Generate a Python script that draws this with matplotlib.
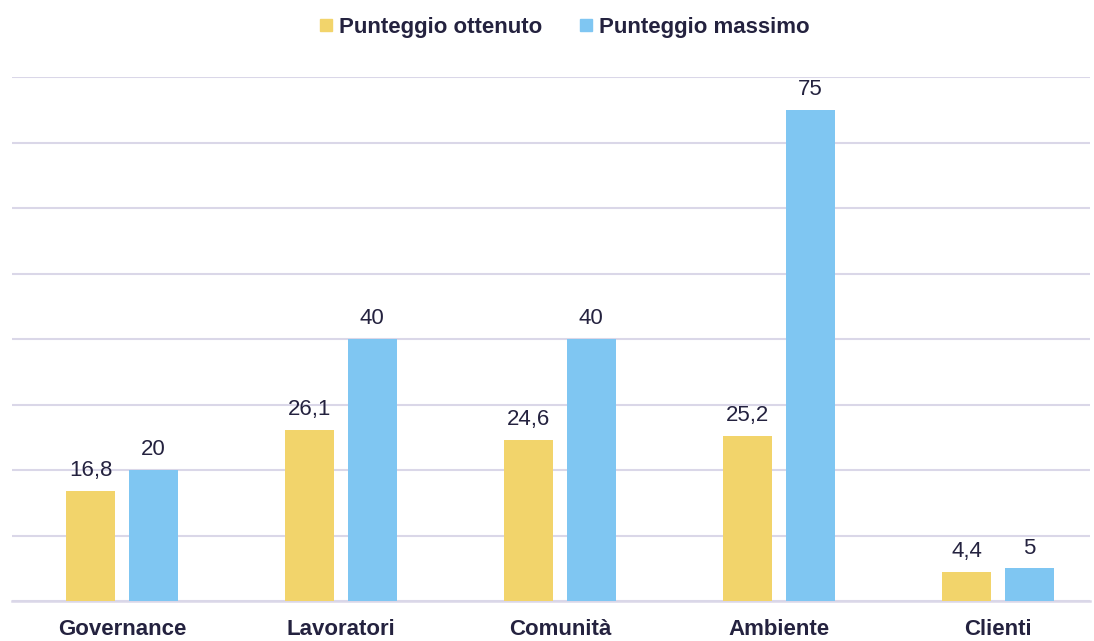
import matplotlib.pyplot as plt
import numpy as np
from matplotlib.lines import Line2D

categorie = ['Governance', 'Lavoratori', 'Comunità', 'Ambiente', 'Clienti']
ottenuto = [16.8, 26.1, 24.6, 25.2, 4.4]
massimo = [20, 40, 40, 75, 5]
etichette_ottenuto = ['16,8', '26,1', '24,6', '25,2', '4,4']
etichette_massimo = ['20', '40', '40', '75', '5']
serie = ['Punteggio ottenuto', 'Punteggio massimo']

giallo = '#F2D46B'
azzurro = '#7FC6F2'
testo = '#24223F'
griglia = '#DAD7E8'

plt.rcParams['font.family'] = ['Liberation Sans', 'DejaVu Sans']

fig = plt.figure(figsize=(10.94, 6.41), dpi=100)
ax = fig.add_axes([12 / 1094, 1 - 601 / 641, 1078 / 1094, (601 - 77) / 641])

x = np.arange(len(categorie))
w = 0.224
off = 0.143
b1 = ax.bar(x - off, ottenuto, w, color=giallo, zorder=3)
b2 = ax.bar(x + off, massimo, w, color=azzurro, zorder=3)

for bars, labs in ((b1, etichette_ottenuto), (b2, etichette_massimo)):
    for r, lab in zip(bars, labs):
        ax.annotate(lab, (r.get_x() + r.get_width() / 2, r.get_height()),
                    xytext=(0, 7), textcoords='offset points',
                    ha='center', va='bottom', fontsize=16, color=testo)

ax.set_xlim(-0.502, 4.42)
ax.set_ylim(0, 80)
ax.set_yticks(np.arange(0, 81, 10))
ax.set_yticklabels([])
ax.tick_params(axis='y', length=0)
ax.yaxis.grid(True, color=griglia, linewidth=1.5, zorder=0)
ax.set_axisbelow(True)
ax.set_xticks(x)
ax.set_xticklabels(categorie, fontsize=16, color=testo, fontweight='bold')
ax.tick_params(axis='x', length=0, pad=13)
for s in ('top', 'right', 'left'):
    ax.spines[s].set_visible(False)
ax.spines['bottom'].set_color(griglia)
ax.spines['bottom'].set_linewidth(1.8)

handles = [Line2D([], [], marker='s', linestyle='', markersize=9, color=giallo),
           Line2D([], [], marker='s', linestyle='', markersize=9, color=azzurro)]
fig.legend(handles, serie, loc='center',
           bbox_to_anchor=(563 / 1094, 1 - 27 / 641), ncol=2, frameon=False,
           prop={'size': 16, 'weight': 'bold'}, labelcolor=testo,
           handletextpad=0.15, columnspacing=1.5, handlelength=0.9)

fig.savefig('out.png', dpi=100)
